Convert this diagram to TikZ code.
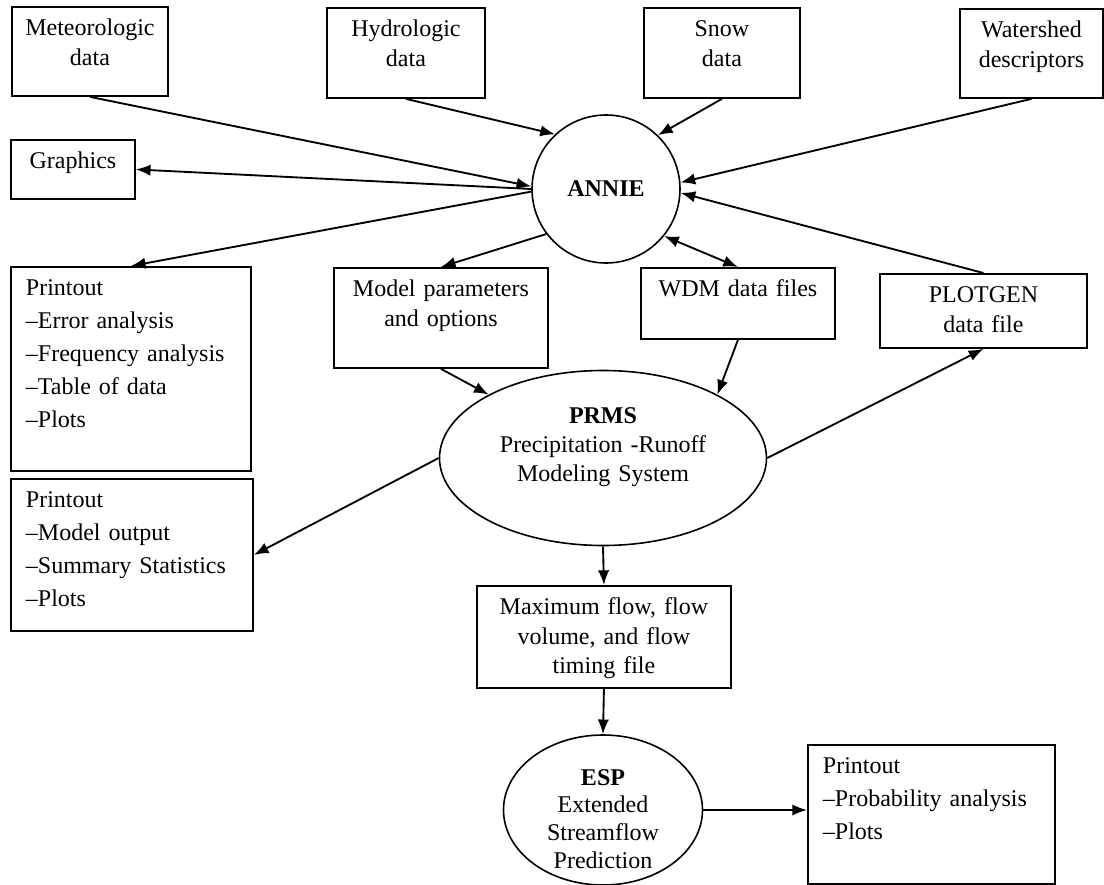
\documentclass[tikz,border=0pt]{standalone}
\usepackage{fontspec}
\setmainfont{Liberation Serif}
\usetikzlibrary{arrows.meta,shapes.geometric}

\begin{document}
\begin{tikzpicture}[x=0.75pt,y=0.75pt,yscale=-1,xscale=1,
  box/.style={draw, line width=1.4pt, inner sep=0pt, anchor=north west, align=center, text height=21.75pt, font=\fontsize{18}{22}\selectfont},
  list/.style={box, align=left, inner xsep=11.25pt, font=\fontsize{18}{24.75}\selectfont},
  proc/.style={draw, line width=1.2pt, ellipse, inner sep=0pt, align=center, font=\fontsize{18}{22}\selectfont},
  flow/.style={line width=1.4pt, -{Latex[length=11pt,width=8.5pt]}},
  both/.style={line width=1.4pt, {Latex[length=11pt,width=8.5pt]}-{Latex[length=11pt,width=8.5pt]}}
]

%uncomment if require: \path (0,885); %set diagram left start at 0, and has height of 885
\useasboundingbox (0,0) rectangle (1104,885);

%Shape: Rectangle [id:inputs] 
\node[box, text width=117pt, text depth=45pt] (met) at (11,6) {Meteorologic\\data};
\node[box, text width=118.5pt, text depth=45.75pt] (hyd) at (326,7) {Hydrologic\\data};
\node[box, text width=117pt, text depth=45.75pt] (snow) at (643,7) {Snow\\data};
\node[box, text width=107.25pt, text depth=45pt] (wsd) at (959,8) {Watershed\\descriptors};
%Shape: Rectangle [id:graphics] 
\node[box, text width=93pt, text depth=22.5pt] (gfx) at (10,139) {Graphics};
%Shape: Rectangle [id:printout1] 
\node[list, text width=157.5pt, text depth=131.25pt] (out1) at (10,266) {Printout\\\textendash Error analysis\\\textendash Frequency analysis\\\textendash Table of data\\\textendash Plots};
%Shape: Rectangle [id:files] 
\node[box, text width=160.5pt, text depth=53.25pt] (param) at (333,267) {Model parameters\\and options};
\node[box, text width=145.5pt, text depth=31.5pt] (wdm) at (640,267) {WDM data files};
\node[box, text width=155.25pt, text depth=33.75pt] (plot) at (879,273) {PLOTGEN\\data file};
%Shape: Rectangle [id:printout2] 
\node[list, text width=159pt, text depth=92.25pt] (out2) at (10,478) {Printout\\\textendash Model output\\\textendash Summary Statistics\\\textendash Plots};
%Shape: Rectangle [id:flowfile] 
\node[box, text width=190.5pt, text depth=54.75pt] (maxq) at (476,585) {Maximum flow, flow\\volume, and flow\\timing file};
%Shape: Rectangle [id:printout3] 
\node[list, text width=162.75pt, text depth=82.5pt] (out3) at (807,744) {Printout\\\textendash Probability analysis\\\textendash Plots};

%Shape: Circle [id:annie] 
\node[proc, circle, minimum size=111pt] (annie) at (606,189) {\textbf{ANNIE}};
%Shape: Ellipse [id:prms] 
\node[proc, minimum width=245.25pt, minimum height=131.25pt, text width=160pt, text height=12pt, text depth=64.5pt] (prms) at (603,458) {\textbf{PRMS}\\Precipitation -Runoff\\Modeling System};
%Shape: Ellipse [id:esp] 
\node[proc, minimum width=149.25pt, minimum height=112.5pt, text width=90pt, text height=12pt, text depth=49.5pt, font=\fontsize{18}{20.8}\selectfont] (esp) at (603,810) {\textbf{ESP}\\Extended\\Streamflow\\Prediction};

%Straight Lines [id:to-annie] 
\draw[flow] (met.south) -- (annie.178);
\draw[flow] (hyd.south) -- (annie.133);
\draw[flow] (snow.south) -- (annie.46);
\draw[flow] (wsd.south) -- (annie.5);
\draw[flow] (plot.north) -- (annie.357);
%Straight Lines [id:from-annie] 
\draw[flow] (annie.180) -- (gfx.east);
\draw[flow] (annie.182) -- (out1.north);
\draw[flow] (annie.217) -- (param.north);
\draw[both] (annie.321) -- (wdm.north);
%Straight Lines [id:prms] 
\draw[flow] (param.south) -- (prms.151);
\draw[flow] (wdm.south) -- (prms.29);
\draw[flow] (prms.west) -- (out2.east);
\draw[flow] (prms.east) -- (plot.south);
\draw[flow] (prms.south) -- (maxq.north);
%Straight Lines [id:esp] 
\draw[flow] (maxq.south) -- (esp.north);
\draw[flow] (esp.east) -- (esp.east -| out3.west);

\end{tikzpicture}
\end{document}
